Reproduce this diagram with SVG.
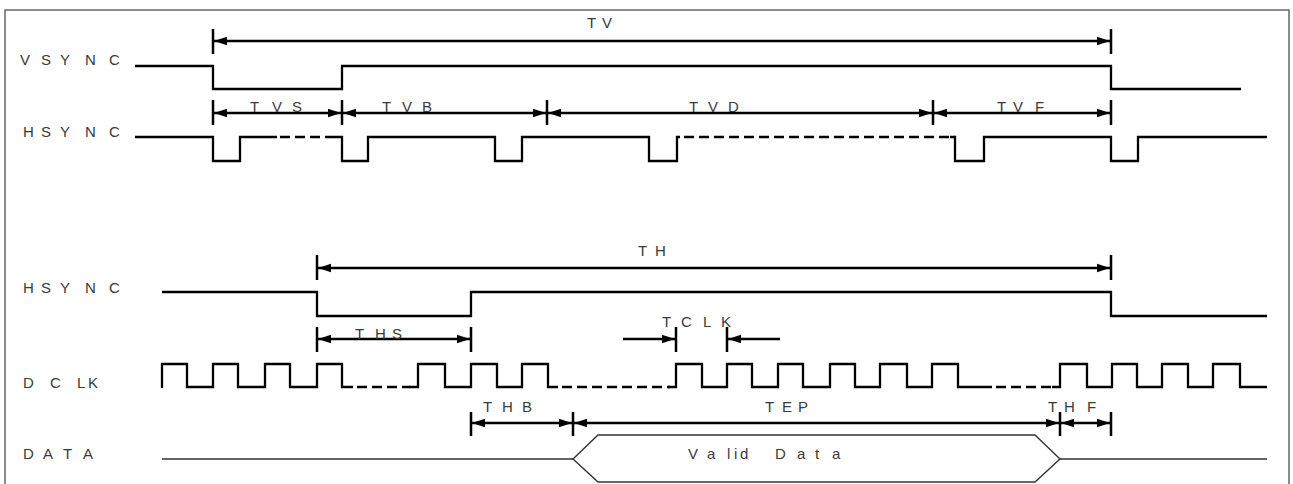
<svg xmlns="http://www.w3.org/2000/svg" width="1293" height="484" viewBox="0 0 1293 484">
<style>
.lbl{font-family:"Liberation Sans",Arial,sans-serif;font-size:15px;fill:#3a3a3a}
.wave{fill:none;stroke:#000;stroke-width:2.3;stroke-linejoin:miter}
.dash{fill:none;stroke:#000;stroke-width:2.3;stroke-dasharray:10 5}
.dim{fill:none;stroke:#000;stroke-width:2.3;marker-start:url(#ah);marker-end:url(#ah)}
.dimE{fill:none;stroke:#000;stroke-width:2.3;marker-end:url(#ah)}
.tick{fill:none;stroke:#000;stroke-width:2.5}
.data{fill:none;stroke:#333;stroke-width:1.4}
.border{fill:none;stroke:#666;stroke-width:1.5}
</style>
<defs>
<marker id="ah" viewBox="-15 -6 16 12" refX="0" refY="0" markerWidth="16" markerHeight="12" markerUnits="userSpaceOnUse" orient="auto-start-reverse">
<path d="M0,0 L-13,-4.3 L-13,4.3 Z" fill="#000"/>
</marker>
</defs>
<rect width="1293" height="484" fill="#fff"/>
<path class="border" d="M5,490 V10 H1289 V490"/>

<g id="labels">
<text class="lbl" x="20 41 60 85 109" y="65">VSYNC</text>
<text class="lbl" x="23 41 60 85 109" y="137">HSYNC</text>
<text class="lbl" x="23 41 60 85 109" y="293">HSYNC</text>
<text class="lbl" x="23 50 77 88" y="388">DCLK</text>
<text class="lbl" x="23 43 63 83" y="459">DATA</text>
</g>

<g id="vsync-wave">
<path class="wave" d="M135,66 H213 V89 H342 V66 H1111 V89 H1241"/>
</g>

<g id="hsync-top-wave">
<path class="wave" d="M135,137 H213 V161 H240 V137 H277"/>
<path class="dash" d="M280,137 H333"/>
<path class="wave" d="M333,137 H342 V161 H368 V137 H495 V161 H522 V137 H649 V161 H677 V137 H680"/>
<path class="dash" d="M684,137 H955"/>
<path class="wave" d="M950,137 H955 V161 H984 V137 H1111 V161 H1138 V137 H1267"/>
</g>

<g id="hsync-bottom-wave">
<path class="wave" d="M162,292 H317 V316 H471 V292 H1111 V316 H1267"/>
</g>

<g id="dclk-wave">
<path class="wave" d="M162,388 V364 H187 V387 H213 V364 H238 V387 H265 V364 H290 V387 H317 V364 H342 V387 H353"/>
<path class="dash" d="M357,387 H410"/>
<path class="wave" d="M409,387 H418 V364 H445 V387 H471 V364 H497 V387 H522 V364 H548 V387 H558"/>
<path class="dash" d="M562,387 H670"/>
<path class="wave" d="M668,387 H676 V364 H702 V387 H727 V364 H752 V387 H778 V364 H803 V387 H830 V364 H855 V387 H880 V364 H907 V387 H932 V364 H958 V387 H992"/>
<path class="dash" d="M996,387 H1053"/>
<path class="wave" d="M1052,387 H1060 V364 H1087 V387 H1112 V364 H1137 V387 H1162 V364 H1188 V387 H1213 V364 H1240 V387 H1267"/>
</g>

<g id="data-wave">
<path class="data" d="M162,459 H573 M1060,459 H1267"/>
<path class="data" d="M573,459 L598,435 H1035 L1060,459 L1035,482 H598 Z"/>
<text class="lbl" x="688 707 727 734 740 762 775 797 815 832" y="459">Valid Data</text>
</g>

<g id="connectors">
<!-- TV -->
<path class="tick" d="M213,29 V54 M1111,29 V54"/>
<path class="dim" d="M214,41 H1110"/>
<text class="lbl" x="587 602" y="28">TV</text>
<!-- TVS/TVB/TVD/TVF -->
<path class="tick" d="M213,100 V125 M342,100 V125 M547,100 V125 M933,100 V125 M1111,100 V125"/>
<path class="dim" d="M214,113 H341"/>
<path class="dim" d="M343,113 H546"/>
<path class="dim" d="M548,113 H932"/>
<path class="dim" d="M934,113 H1110"/>
<text class="lbl" x="250 272 292" y="112">TVS</text>
<text class="lbl" x="382 402 422" y="112">TVB</text>
<text class="lbl" x="689 708 728" y="112">TVD</text>
<text class="lbl" x="997 1013 1035" y="112">TVF</text>
<!-- TH -->
<path class="tick" d="M317,255 V280 M1111,255 V280"/>
<path class="dim" d="M318,268 H1110"/>
<text class="lbl" x="638 655" y="256">TH</text>
<!-- THS -->
<path class="tick" d="M317,327 V352 M471,327 V352"/>
<path class="dim" d="M318,339 H470"/>
<text class="lbl" x="355 375 392" y="339">THS</text>
<!-- TCLK -->
<path class="tick" d="M676,327 V352 M727,327 V352"/>
<path class="dimE" d="M623,339 H675"/>
<path class="dimE" d="M780,339 H728"/>
<text class="lbl" x="662 681 703 721" y="327">TCLK</text>
<!-- THB/TEP/THF -->
<path class="tick" d="M471,412 V436 M573,412 V436 M1060,412 V436 M1111,412 V436"/>
<path class="dim" d="M472,423 H572"/>
<path class="dim" d="M574,423 H1059"/>
<path class="dim" d="M1061,423 H1110"/>
<text class="lbl" x="483 502 522" y="412">THB</text>
<text class="lbl" x="765 782 798" y="412">TEP</text>
<text class="lbl" x="1048 1064 1087" y="412">THF</text>
</g>
</svg>
